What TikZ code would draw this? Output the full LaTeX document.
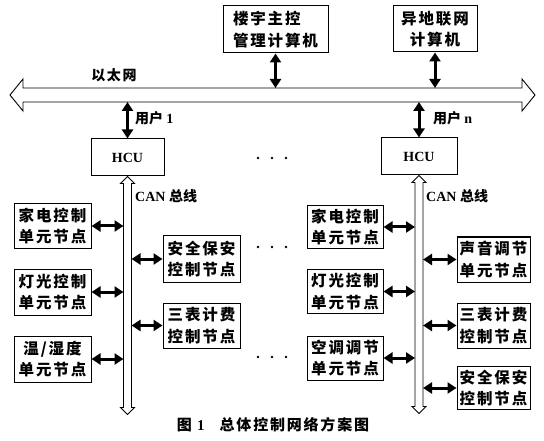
\documentclass[tikz,border=0pt]{standalone}
\usepackage{fontspec}
\setmainfont{Liberation Serif}
\newfontfamily\cjk[LetterSpace=12]{Noto Sans CJK SC}
\newfontfamily\cjkplain{Noto Sans CJK SC}
\usetikzlibrary{arrows.meta}
\tikzset{
  box/.style={draw, line width=1pt, inner sep=0pt, minimum width=77pt, minimum height=44pt,
    align=center, font=\cjk\bfseries\fontsize{15.5}{21.5}\selectfont},
  bar/.style={line width=3pt, {Triangle[length=9pt,width=11pt]}-{Triangle[length=9pt,width=11pt]}},
  hollow/.style={draw, line width=0.9pt, fill=white},
  lbl/.style={inner sep=0pt, font=\cjkplain\bfseries\fontsize{14}{16}\selectfont},
  dot/.style={fill=black, circle, inner sep=0pt, minimum size=2.8pt}
}
\begin{document}
\begin{tikzpicture}[x=1pt,y=-1pt]
\useasboundingbox (0,0) rectangle (544,441);
% Ethernet
\draw[hollow] (10,95) -- (23,79) -- (23,88) -- (522,88) -- (522,79) -- (535,95) -- (522,111)
  -- (522,102) -- (23,102) -- (23,111) -- cycle;
\coordinate (ethT) at (0,88);
\coordinate (ethB) at (0,102);
\node[lbl, font=\cjk\bfseries\fontsize{14}{16}\selectfont] (eth) at (114,75) {以太网};

% top computers
\node[box, minimum width=105pt, minimum height=47pt, align=left] (mgmt) at (275.5,29.5) {楼宇主控\\管理计算机};
\node[box, minimum width=84pt, minimum height=46pt] (remote) at (435,29) {异地联网\\计算机};
\draw[bar] (mgmt.south) -- (mgmt.south |- ethT);
\draw[bar] (remote.south) -- (remote.south |- ethT);

% HCUs
\node[box, minimum width=73pt, minimum height=37pt, font=\bfseries\fontsize{14}{16}\selectfont] (hcuL) at (127.5,157.5) {HCU};
\node[box, minimum width=76pt, minimum height=37pt, font=\bfseries\fontsize{14}{16}\selectfont] (hcuR) at (419,156.5) {HCU};
\draw[bar] (ethB -| hcuL.north) -- (hcuL.north);
\draw[bar] (ethB -| hcuR.north) -- (hcuR.north);
\node[lbl, anchor=west] (u1) at (135,118) {用户 \fontspec{Liberation Serif}\bfseries 1};
\node[lbl, anchor=west] (un) at (433,118) {用户 \fontspec{Liberation Serif}\bfseries n};

% CAN buses
\coordinate (bLt) at (hcuL.south);
\coordinate (bRt) at (hcuR.south);
\draw[hollow] (bLt) -- ++(7,7) -- ++(-3,0) -- ++(0,224) -- ++(3,0) -- ++(-7,7) -- ++(-7,-7) -- ++(3,0) -- ++(0,-224) -- ++(-3,0) -- cycle;
\draw[hollow] (bRt) -- ++(7,7) -- ++(-3,0) -- ++(0,224) -- ++(3,0) -- ++(-7,7) -- ++(-7,-7) -- ++(3,0) -- ++(0,-224) -- ++(-3,0) -- cycle;
\coordinate (bLw) at (123.5,0);
\coordinate (bLe) at (131.5,0);
\coordinate (bRw) at (415,0);
\coordinate (bRe) at (423,0);
\node[lbl, anchor=west] (canL) at (135,196) {\fontspec{Liberation Serif}\bfseries CAN \cjkplain\bfseries 总线};
\node[lbl, anchor=west] (canR) at (426,196) {\fontspec{Liberation Serif}\bfseries CAN \cjkplain\bfseries 总线};

% left group nodes
\node[box] (a1) at (52.5,226) {家电控制\\单元节点};
\node[box, minimum height=46pt] (a2) at (52.5,292) {灯光控制\\单元节点};
\node[box, minimum height=46pt] (a3) at (52.5,359) {温/湿度\\单元节点};
\node[box, minimum height=46pt] (b1) at (201.5,259) {安全保安\\控制节点};
\node[box, minimum height=45pt] (b2) at (201.5,325.5) {三表计费\\控制节点};
\draw[bar] (a1.east) -- (a1.east -| bLw);
\draw[bar] (a2.east) -- (a2.east -| bLw);
\draw[bar] (a3.east) -- (a3.east -| bLw);
\draw[bar] (b1.west -| bLe) -- (b1.west);
\draw[bar] (b2.west -| bLe) -- (b2.west);

% right group nodes
\node[box, minimum width=76pt, minimum height=42pt] (c1) at (345,227) {家电控制\\单元节点};
\node[box, minimum width=76pt, minimum height=44pt] (c2) at (345,291.5) {灯光控制\\单元节点};
\node[box, minimum width=76pt, minimum height=44pt] (c3) at (345,358) {空调调节\\单元节点};
\node[box, minimum width=73pt, minimum height=45pt] (d1) at (493.5,259.5) {声音调节\\单元节点};
\node[box, minimum width=73pt, minimum height=45pt] (d2) at (493.5,325.5) {三表计费\\控制节点};
\node[box, minimum width=73pt, minimum height=43pt] (d3) at (493.5,388) {安全保安\\控制节点};
\draw[bar] (c1.east) -- (c1.east -| bRw);
\draw[bar] (c2.east) -- (c2.east -| bRw);
\draw[bar] (c3.east) -- (c3.east -| bRw);
\draw[bar] (d1.west -| bRe) -- (d1.west);
\draw[bar] (d2.west -| bRe) -- (d2.west);
\draw[bar] (d3.west -| bRe) -- (d3.west);

% ellipsis dots
\foreach \y in {158,247,357} {
  \node[dot] at (258,\y) {};
  \node[dot] at (272,\y) {};
  \node[dot] at (286,\y) {};
}

% caption
\node[lbl, font=\cjk\bfseries\fontsize{15}{17}\selectfont] (cap) at (273,425) {图 \fontspec{Liberation Serif}\bfseries 1\quad \cjk\bfseries 总体控制网络方案图};
\end{tikzpicture}
\end{document}
